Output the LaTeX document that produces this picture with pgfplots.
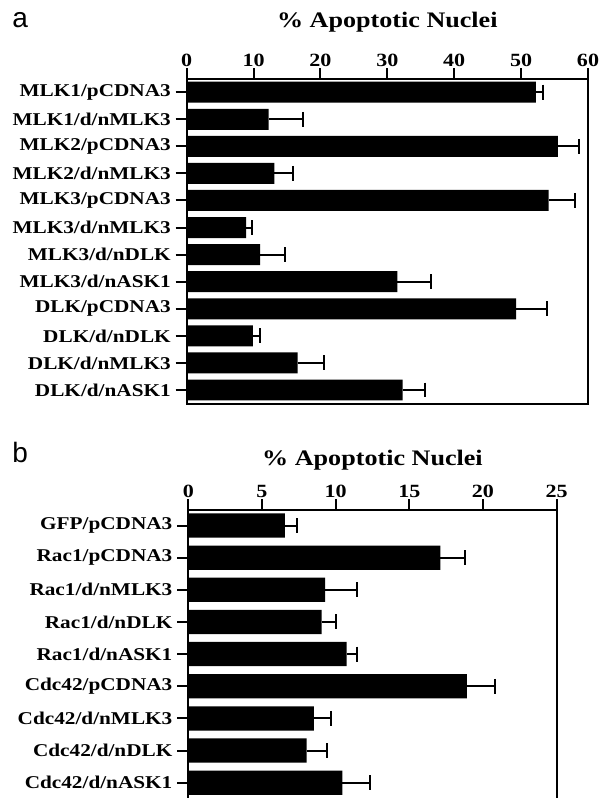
\documentclass[border=0pt]{standalone}
\usepackage{pgfplots}
\pgfplotsset{compat=1.18}
\usepackage{fontspec}
\setmainfont{Liberation Serif}[FakeStretch=1.18]
\newfontfamily\panelfont{Liberation Sans}
\begin{document}
\begin{tikzpicture}
\path[use as bounding box] (0,0) rectangle (450pt,-598.5pt);
\pgfplotsset{
  common/.style={
    scale only axis,
    anchor=north west,
    xbar,
    y dir=reverse,
    /pgf/number format/assume math mode=true,
    tick align=outside,
    major tick length=8.25pt,
    xtick pos=upper,
    ytick pos=left,
    xticklabel pos=upper,
    tick style={line width=1.5pt, black},
    axis line style={line width=1.6pt},
    xticklabel style={font=\fontsize{14}{14}\selectfont\bfseries, inner sep=0pt, yshift=0.5pt},
    yticklabel style={font=\fontsize{13.5}{14}\selectfont\bfseries, inner sep=3.5pt},
    title style={font=\fontsize{16.6}{18}\selectfont\bfseries, anchor=base, at={(axis description cs:0.5,1)}},
    error bars/error bar style={line width=1.5pt, black, draw},
    error bars/error mark options={line width=1.5pt, black, mark size=5.6pt, rotate=90},
  },
  barstyle/.style={fill=black, draw=none, error bars/.cd, x dir=plus, x explicit},
}
% Panel a
\begin{axis}[common,
  at={(140pt,-59.25pt)},
  width=301pt, height=243.75pt,
  xmin=0, xmax=60, xtick={0,10,...,60},
  ymin=0.513, ymax=12.517,
  bar width=0.775,
  ytick={1,...,12},
  yticklabels={MLK1/pCDNA3,MLK1/d/nMLK3,MLK2/pCDNA3,MLK2/d/nMLK3,MLK3/pCDNA3,MLK3/d/nMLK3,MLK3/d/nDLK,MLK3/d/nASK1,DLK/pCDNA3,DLK/d/nDLK,DLK/d/nMLK3,DLK/d/nASK1},
  title={\% Apoptotic Nuclei},
  title style={yshift=32.25pt},
]
\addplot[barstyle] coordinates {
(52.2,1) +- (1.1,0)
(12.25,2) +- (5.15,0)
(55.5,3) +- (3.2,0)
(13.1,4) +- (2.8,0)
(54.1,5) +- (3.9,0)
(8.9,6) +- (0.85,0)
(11.0,7) +- (3.75,0)
(31.5,8) +- (5.0,0)
(49.25,9) +- (4.6,0)
(9.9,10) +- (1.0,0)
(16.6,11) +- (4.0,0)
(32.3,12) +- (3.3,0)
};
\end{axis}
% Panel b
\begin{axis}[common,
  at={(141.2pt,-382.5pt)},
  width=276.3pt, height=216pt,
  axis x line*=top, axis y line*=box,
  x axis line style={-}, y axis line style={-},
  xmin=0, xmax=25, xtick={0,5,...,25},
  ymin=0.518, ymax=9.476,
  bar width=0.755,
  ytick={1,...,9},
  yticklabels={GFP/pCDNA3,Rac1/pCDNA3,Rac1/d/nMLK3,Rac1/d/nDLK,Rac1/d/nASK1,Cdc42/pCDNA3,Cdc42/d/nMLK3,Cdc42/d/nDLK,Cdc42/d/nASK1},
  title={\% Apoptotic Nuclei},
  title style={yshift=27.75pt},
]
\addplot[barstyle] coordinates {
(6.56,1) +- (0.84,0)
(17.1,2) +- (1.7,0)
(9.28,3) +- (2.2,0)
(9.05,4) +- (0.95,0)
(10.75,5) +- (0.72,0)
(18.9,6) +- (1.9,0)
(8.53,7) +- (1.13,0)
(8.04,8) +- (1.39,0)
(10.45,9) +- (1.85,0)
};
\end{axis}
\node[anchor=base west, inner sep=0pt, font=\panelfont\fontsize{21}{22}\selectfont] at (9pt,-21pt) {a};
\node[anchor=base west, inner sep=0pt, font=\panelfont\fontsize{21}{22}\selectfont] at (9pt,-346.5pt) {b};
\end{tikzpicture}
\end{document}
